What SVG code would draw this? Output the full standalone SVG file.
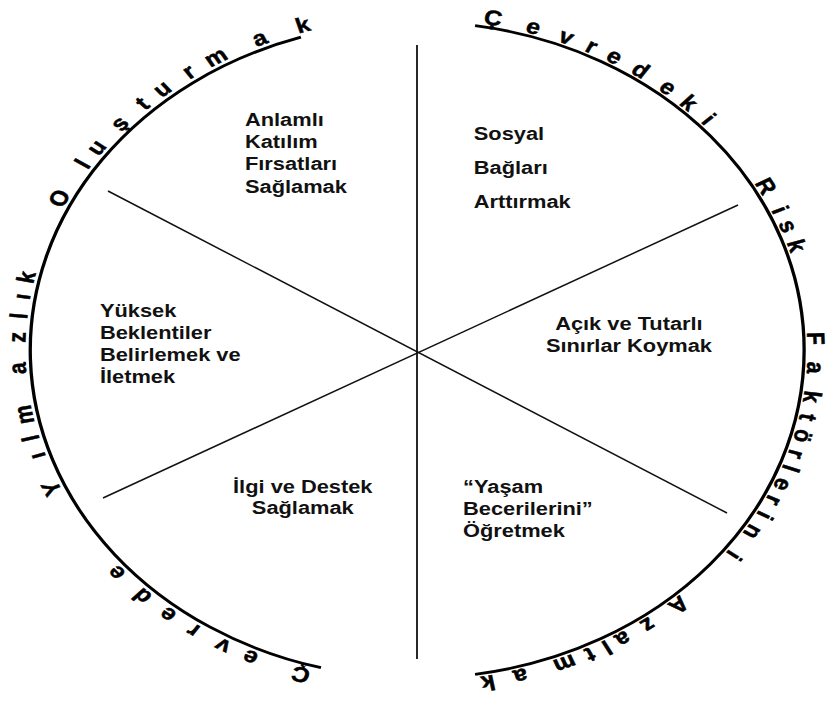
<svg xmlns="http://www.w3.org/2000/svg" xmlns:xlink="http://www.w3.org/1999/xlink" width="827" height="705" viewBox="0 0 827 705">
<style>
.arc{fill:none;stroke:#000;stroke-width:2.8}
.div{stroke:#111;stroke-width:1.5}
.lbl{font-family:"Liberation Sans",Arial,sans-serif;font-weight:bold;font-size:18.5px;fill:#111}
.c{font-family:"Liberation Sans",Arial,sans-serif;font-weight:bold;font-size:21px;fill:#000;stroke:#000;stroke-width:0.5;text-anchor:middle}
</style>
<defs>
<path id="pr" d="M 353.4 19 A 331 331 0 0 1 353.4 681"/>
<path id="pl" d="M 353.4 682 A 332 332 0 0 1 353.4 18"/>
</defs>
<rect width="827" height="705" fill="#fff"/>
<g id="connectors">
<line class="div" x1="417" y1="45" x2="417" y2="659" style="stroke-width:1.8"/>
<line class="div" x1="108" y1="191" x2="727" y2="513"/>
<line class="div" x1="738" y1="205" x2="103" y2="498"/>
</g>
<g transform="scale(1.18,1)">
<g id="left-ring">
<path class="arc" d="M 255.0 37.2 A 328 328 0 0 0 272.0 667.7"/>
<text class="c"><textPath xlink:href="#pl" startOffset="9.39%">Ç</textPath></text>
<text class="c"><textPath xlink:href="#pl" startOffset="13.72%">e</textPath></text>
<text class="c"><textPath xlink:href="#pl" startOffset="16.17%">v</textPath></text>
<text class="c"><textPath xlink:href="#pl" startOffset="18.94%">r</textPath></text>
<text class="c"><textPath xlink:href="#pl" startOffset="21.44%">e</textPath></text>
<text class="c"><textPath xlink:href="#pl" startOffset="24.11%">d</textPath></text>
<text class="c"><textPath xlink:href="#pl" startOffset="27.11%">e</textPath></text>
<text class="c"><textPath xlink:href="#pl" startOffset="36.61%">Y</textPath></text>
<text class="c"><textPath xlink:href="#pl" startOffset="39.89%">ı</textPath></text>
<text class="c"><textPath xlink:href="#pl" startOffset="41.61%">l</textPath></text>
<text class="c"><textPath xlink:href="#pl" startOffset="43.89%">m</textPath></text>
<text class="c"><textPath xlink:href="#pl" startOffset="48.28%">a</textPath></text>
<text class="c"><textPath xlink:href="#pl" startOffset="51.22%">z</textPath></text>
<text class="c"><textPath xlink:href="#pl" startOffset="53.22%">l</textPath></text>
<text class="c"><textPath xlink:href="#pl" startOffset="55.06%">ı</textPath></text>
<text class="c"><textPath xlink:href="#pl" startOffset="56.89%">k</textPath></text>
<text class="c"><textPath xlink:href="#pl" startOffset="64.78%">O</textPath></text>
<text class="c"><textPath xlink:href="#pl" startOffset="68.5%">l</textPath></text>
<text class="c"><textPath xlink:href="#pl" startOffset="70.4%">u</textPath></text>
<text class="c"><textPath xlink:href="#pl" startOffset="73.3%">ş</textPath></text>
<text class="c"><textPath xlink:href="#pl" startOffset="75.9%">t</textPath></text>
<text class="c"><textPath xlink:href="#pl" startOffset="78.0%">u</textPath></text>
<text class="c"><textPath xlink:href="#pl" startOffset="80.67%">r</textPath></text>
<text class="c"><textPath xlink:href="#pl" startOffset="83.2%">m</textPath></text>
<text class="c"><textPath xlink:href="#pl" startOffset="87.11%">a</textPath></text>
<text class="c"><textPath xlink:href="#pl" startOffset="90.78%">k</textPath></text>
</g>
<g id="right-ring">
<path class="arc" d="M 402.6 25.7 A 328 328 0 0 1 402.6 674.3"/>
<text class="c"><textPath xlink:href="#pr" startOffset="6.11%">Ç</textPath></text>
<text class="c"><textPath xlink:href="#pr" startOffset="9.44%">e</textPath></text>
<text class="c"><textPath xlink:href="#pr" startOffset="12.22%">v</textPath></text>
<text class="c"><textPath xlink:href="#pr" startOffset="14.44%">r</textPath></text>
<text class="c"><textPath xlink:href="#pr" startOffset="16.5%">e</textPath></text>
<text class="c"><textPath xlink:href="#pr" startOffset="18.95%">d</textPath></text>
<text class="c"><textPath xlink:href="#pr" startOffset="21.67%">e</textPath></text>
<text class="c"><textPath xlink:href="#pr" startOffset="23.89%">k</textPath></text>
<text class="c"><textPath xlink:href="#pr" startOffset="26.11%">i</textPath></text>
<text class="c"><textPath xlink:href="#pr" startOffset="33.89%">R</textPath></text>
<text class="c"><textPath xlink:href="#pr" startOffset="36.39%">i</textPath></text>
<text class="c"><textPath xlink:href="#pr" startOffset="38.06%">s</textPath></text>
<text class="c"><textPath xlink:href="#pr" startOffset="40.0%">k</textPath></text>
<text class="c"><textPath xlink:href="#pr" startOffset="48.89%">F</textPath></text>
<text class="c"><textPath xlink:href="#pr" startOffset="51.67%">a</textPath></text>
<text class="c"><textPath xlink:href="#pr" startOffset="54.44%">k</textPath></text>
<text class="c"><textPath xlink:href="#pr" startOffset="56.39%">t</textPath></text>
<text class="c"><textPath xlink:href="#pr" startOffset="58.2%">ö</textPath></text>
<text class="c"><textPath xlink:href="#pr" startOffset="60.0%">r</textPath></text>
<text class="c"><textPath xlink:href="#pr" startOffset="61.39%">l</textPath></text>
<text class="c"><textPath xlink:href="#pr" startOffset="63.06%">e</textPath></text>
<text class="c"><textPath xlink:href="#pr" startOffset="64.7%">r</textPath></text>
<text class="c"><textPath xlink:href="#pr" startOffset="66.3%">i</textPath></text>
<text class="c"><textPath xlink:href="#pr" startOffset="68.1%">n</textPath></text>
<text class="c"><textPath xlink:href="#pr" startOffset="70.78%">i</textPath></text>
<text class="c"><textPath xlink:href="#pr" startOffset="77.22%">A</textPath></text>
<text class="c"><textPath xlink:href="#pr" startOffset="80.3%">z</textPath></text>
<text class="c"><textPath xlink:href="#pr" startOffset="82.7%">a</textPath></text>
<text class="c"><textPath xlink:href="#pr" startOffset="84.2%">l</textPath></text>
<text class="c"><textPath xlink:href="#pr" startOffset="85.7%">t</textPath></text>
<text class="c"><textPath xlink:href="#pr" startOffset="87.9%">m</textPath></text>
<text class="c"><textPath xlink:href="#pr" startOffset="91.61%">a</textPath></text>
<text class="c"><textPath xlink:href="#pr" startOffset="94.28%">k</textPath></text>
</g>
<g id="node-katilim">
<text class="lbl" x="207.6" y="126">Anlamlı</text>
<text class="lbl" x="207.6" y="148">Katılım</text>
<text class="lbl" x="207.6" y="170">Fırsatları</text>
<text class="lbl" x="207.6" y="193">Sağlamak</text>
</g>
<g id="node-sosyal">
<text class="lbl" x="401.5" y="140">Sosyal</text>
<text class="lbl" x="401.5" y="174">Bağları</text>
<text class="lbl" x="401.5" y="208">Arttırmak</text>
</g>
<g id="node-beklenti">
<text class="lbl" x="84.7" y="317">Yüksek</text>
<text class="lbl" x="84.7" y="339">Beklentiler</text>
<text class="lbl" x="84.7" y="361">Belirlemek ve</text>
<text class="lbl" x="84.7" y="383">İletmek</text>
</g>
<g id="node-sinirlar">
<text class="lbl" x="533" y="330" text-anchor="middle">Açık ve Tutarlı</text>
<text class="lbl" x="533" y="352" text-anchor="middle">Sınırlar Koymak</text>
</g>
<g id="node-destek">
<text class="lbl" x="256.6" y="493" text-anchor="middle">İlgi ve Destek</text>
<text class="lbl" x="256.6" y="514" text-anchor="middle">Sağlamak</text>
</g>
<g id="node-yasam">
<text class="lbl" x="392.4" y="493">“Yaşam</text>
<text class="lbl" x="392.4" y="515">Becerilerini”</text>
<text class="lbl" x="392.4" y="537">Öğretmek</text>
</g>
</g>
</svg>
